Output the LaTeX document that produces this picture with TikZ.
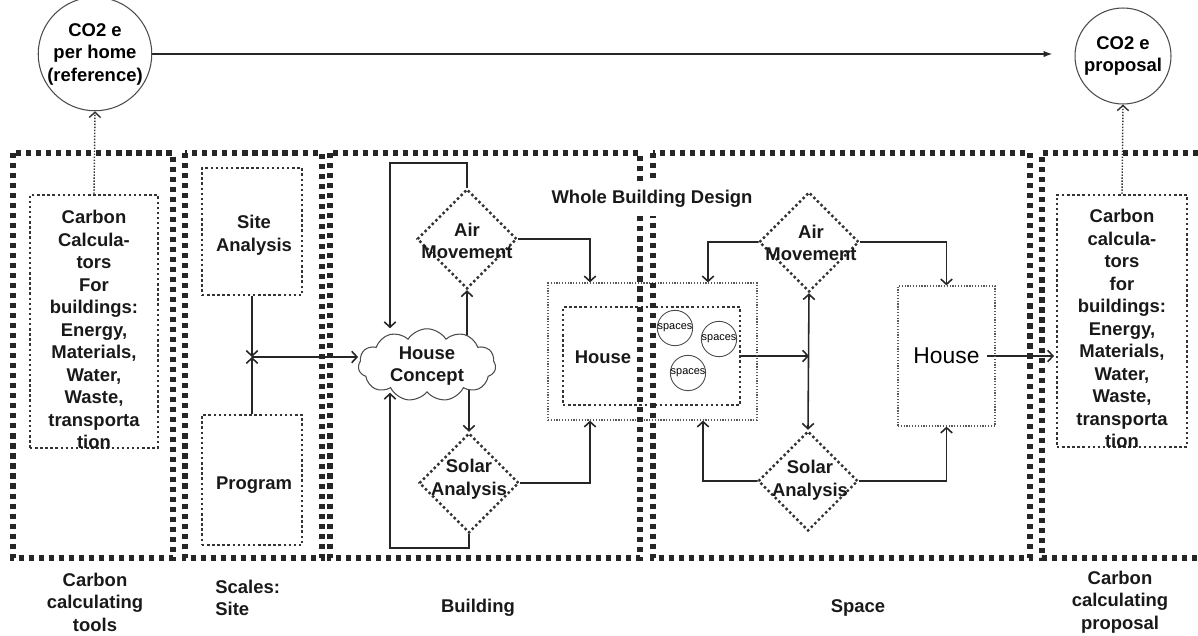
\documentclass[tikz,border=0pt]{standalone}
\usepackage{fontspec}
\setmainfont{Liberation Sans}
\usetikzlibrary{shapes.geometric,shapes.symbols,arrows.meta,backgrounds}
\begin{document}
\begin{tikzpicture}[x=0.02cm,y=-0.02cm,
  font=\fontsize{10.5}{12.8}\selectfont\bfseries,
  big/.style={draw=black!85, line width=2.9pt, dash pattern=on 2.9pt off 2.8pt},
  dotbox/.style={rectangle, draw=black!80, line width=1.4pt, dash pattern=on 1.4pt off 1.5pt, inner sep=0pt},
  thindot/.style={rectangle, draw=black!65, line width=0.7pt, dash pattern=on 0.7pt off 0.9pt, inner sep=0pt},
  dia/.style={diamond, draw=black!80, line width=1.4pt, dash pattern=on 1.4pt off 1.5pt, minimum width=2cm, minimum height=2cm, inner sep=0pt},
  co/.style={circle, draw=black!70, line width=0.6pt, minimum size=1.92cm, inner sep=0pt, align=center, fill=white},
  sp/.style={circle, draw=black!70, line width=0.5pt, minimum size=0.68cm, inner sep=0pt, font=\fontsize{6.2}{7}\selectfont\mdseries},
  arr/.style={draw=black!85, line width=0.9pt, -{Straight Barb[length=3pt,width=6.5pt]}},
  arrb/.style={draw=black!85, line width=0.9pt, {Straight Barb[length=3pt,width=6.5pt]}-{Straight Barb[length=3pt,width=6.5pt]}},
  darr/.style={draw=black!80, line width=0.8pt, dash pattern=on 0.8pt off 0.9pt, -{Straight Barb[length=3pt,width=6.5pt]}},
  txt/.style={align=center, inner sep=0pt, text=black!90},
]
\useasboundingbox (0,0) rectangle (1198,636);

% circles
\node[co] (ref) at (95,54) {CO2 e\\per home\\(reference)};
\node[co] (prop) at (1123,56) {CO2 e\\proposal};

% carbon calculator boxes
\node[dotbox, minimum width=2.56cm, minimum height=5.06cm] (lbox) at (94,321.5) {};
\node[txt] (ltxt) at (94,329.5) {Carbon\\Calcula-\\tors\\For\\buildings:\\Energy,\\Materials,\\Water,\\Waste,\\transporta\\tion};
\node[dotbox, minimum width=2.6cm, minimum height=5.04cm] (rbox) at (1122,321) {};
\node[txt] (rtxt) at (1122,328.5) {Carbon\\calcula-\\tors\\for\\buildings:\\Energy,\\Materials,\\Water,\\Waste,\\transporta\\tion};

% site
\node[dotbox, minimum width=2cm, minimum height=2.54cm] (sa) at (252,231.5) {};
\node[txt] (satxt) at (254,235) {Site\\Analysis};
\node[dotbox, minimum width=2cm, minimum height=2.6cm] (prog) at (252,480) {};
\node[txt] (progtxt) at (254,485) {Program};
\coordinate (j) at (252,357);

% building
\node[cloud, cloud puffs=11, cloud puff arc=115, aspect=1.9, draw=black!70, line width=0.6pt, fill=white, minimum width=2.75cm, minimum height=1.45cm, inner sep=0pt] (hc) at (427,365) {};
\node[txt] (hctxt) at (427,366) {House\\Concept};
\node[dia] (am1) at (467,239) {};
\node[txt] (am1t) at (467,241) {Air\\Movement};
\node[dia] (sa1) at (469,483) {};
\node[txt] (sa1t) at (469,479) {Solar\\Analysis};

% house boxes
\node[thindot, minimum width=4.18cm, minimum height=2.74cm] (hob) at (652.5,351.5) {};
\node[dotbox, minimum width=3.54cm, minimum height=1.96cm] (hib) at (651.5,356) {};
\node[txt] (htxt) at (603,357) {House};
\node[sp] (sp1) at (675,328) {spaces};
\node[sp] (sp2) at (719,339) {spaces};
\node[sp] (sp3) at (688,373) {spaces};

% space
\node[dia] (am2) at (809,242) {};
\node[txt] (am2t) at (811,243) {Air\\Movement};
\node[dia] (sa2) at (808,481) {};
\node[txt] (sa2t) at (810,480) {Solar\\Analysis};
\node[thindot, minimum width=1.94cm, minimum height=2.8cm, font=\fontsize{13}{15}\selectfont\mdseries] (hs) at (946.5,356) {House};

% frames
\draw[big] (13,153) rectangle (173,558);
\draw[big] (185,153) rectangle (322,558);
\draw[big] (330,153) rectangle (640,558);
\draw[big] (653,153) rectangle (1030,558);
\draw[big] (1198,153) -- (1042,153) -- (1042,558) -- (1198,558);

\node[txt, fill=white, inner xsep=2pt, inner ysep=5pt] (wbd) at (652,199) {Whole Building Design};

% bottom labels
\node[txt] (l1) at (95,602) {Carbon\\calculating\\tools};
\node[txt, align=left, anchor=west] (l2) at (215,598) {Scales:\\Site};
\node[txt] (l3) at (478,608) {Building};
\node[txt] (l4) at (858,608) {Space};
\node[txt] (l5) at (1120,602) {Carbon\\calculating\\proposal};

% connectors
\coordinate (cl) at (390,163);
\coordinate (cb) at (390,548);
\coordinate (hbx) at (590,0);
\coordinate (hx2a) at (708,0);
\coordinate (hx2b) at (703,0);
\begin{scope}[on background layer]
\draw[-{Latex[length=5pt,width=3.6pt]}, draw=black!85, line width=0.9pt, shorten >=12.5pt] (ref.east) -- (ref.east -| prop.west);
\draw[darr] (lbox.north) -- (ref.south);
\draw[darr] (rbox.north) -- (prop.south);
\draw[arr] (sa) -- (j);
\draw[arr] (prog) -- (j);
\draw[arr] (j) -- (j -| hc.west);
\draw[arr] (am1.south |- hc.center) -- (am1.south);
\draw[arr] (am1.north) |- (cl) -- (cl |- hc.north);
\draw[arr] (am1.east) -| (hbx |- hob.north);
\draw[arr] (sa1.north |- hc.center) -- (sa1.north);
\draw[arr] (sa1.south) |- (cb) -- (cb |- hc.south);
\draw[arr] (sa1.east) -| (hbx |- hob.south);
\draw[arr] (am2.west) -| (hx2a |- hob.north);
\draw[arr] (am2.east) -| (hs.north);
\draw[arr] (hib.east) -- (hib.east -| am2.south);
\draw[arrb] (am2.south) -- (sa2.north);
\draw[arr] (sa2.west) -| (hx2b |- hob.south);
\draw[arr] (sa2.east) -| (hs.south);
\draw[arr, shorten >=1pt] ([xshift=-5]hs.east) -- (hs.east -| rbox.west);
\end{scope}
\end{tikzpicture}
\end{document}
